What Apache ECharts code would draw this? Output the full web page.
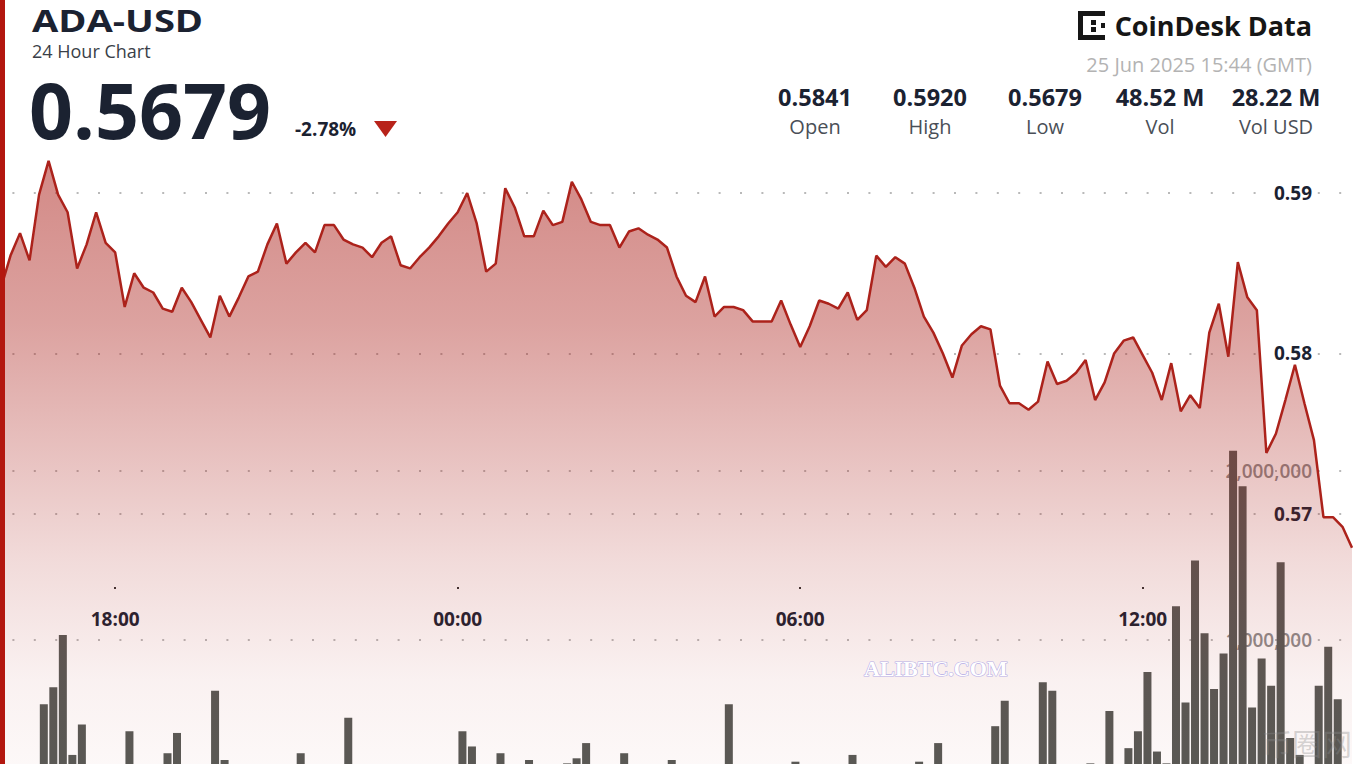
<!DOCTYPE html>
<html>
<head>
<meta charset="utf-8">
<script src="https://cdn.jsdelivr.net/npm/echarts@6/dist/echarts.min.js"></script>
<style>
html,body{margin:0;padding:0;background:#ffffff;overflow:hidden;}
#wrap{width:1356px;height:764px;overflow:hidden;position:relative;}
#chart{width:1356px;height:809px;position:absolute;left:0;top:0;}
</style>
</head>
<body>
<div id="wrap"><div id="chart"></div></div>
<script>
// ---------------- data ----------------
const symbol = 'ADA-USD';
const subtitle = '24 Hour Chart';
const lastPrice = '0.5679';
const changePct = '-2.78%';
const brand = 'CoinDesk Data';
const timestamp = '25 Jun 2025 15:44 (GMT)';
const statValues = ['0.5841', '0.5920', '0.5679', '48.52 M', '28.22 M'];
const statLabels = ['Open', 'High', 'Low', 'Vol', 'Vol USD'];

const startMinute = 16 * 60;      // first sample 16:00
const stepMinutes = 10;           // one sample every 10 minutes
const xTickLabels = ['18:00', '00:00', '06:00', '12:00'];
const priceTicks = [0.57, 0.58, 0.59];
const volumeTicks = [1000000, 2000000];

// price, one value per 10 minutes
const prices = [
  0.5841, 0.5861, 0.5875, 0.5858, 0.5899, 0.5920, 0.5899, 0.5888, 0.5853, 0.5868,
  0.5888, 0.5869, 0.5863, 0.5829, 0.5850, 0.5841, 0.5838, 0.5828, 0.5826, 0.5841,
  0.5832, 0.5821, 0.5810, 0.5836, 0.5823, 0.5835, 0.5848, 0.5851, 0.5868, 0.5881,
  0.5856, 0.5863, 0.5869, 0.5863, 0.5880, 0.5880, 0.5871, 0.5868, 0.5866, 0.5860,
  0.5869, 0.5873, 0.5855, 0.5853, 0.5860, 0.5866, 0.5873, 0.5881, 0.5888, 0.5900,
  0.5881, 0.5851, 0.5856, 0.5903, 0.5891, 0.5873, 0.5873, 0.5889, 0.5880, 0.5882,
  0.5907, 0.5896, 0.5882, 0.5880, 0.5880, 0.5866, 0.5876, 0.5878, 0.5874, 0.5871,
  0.5866, 0.5848, 0.5836, 0.5832, 0.5848, 0.5823, 0.5829, 0.5829, 0.5827, 0.5820,
  0.5820, 0.5820, 0.5833, 0.5818, 0.5804, 0.5817, 0.5833, 0.5831, 0.5828, 0.5838,
  0.5821, 0.5827, 0.5861, 0.5854, 0.5860, 0.5856, 0.5841, 0.5823, 0.5813, 0.5800,
  0.5785, 0.5805, 0.5812, 0.5817, 0.5815, 0.5780, 0.5769, 0.5769, 0.5765, 0.5770,
  0.5795, 0.5781, 0.5783, 0.5788, 0.5796, 0.5771, 0.5782, 0.5800, 0.5808, 0.5810,
  0.5799, 0.5788, 0.5771, 0.5794, 0.5764, 0.5774, 0.5766, 0.5813, 0.5831, 0.5798,
  0.5857, 0.5835, 0.5827, 0.5738, 0.5750, 0.5771, 0.5793, 0.5769, 0.5746, 0.5698,
  0.5698, 0.5692, 0.5679
];

// volume in millions, one bar per 10-minute interval
const volumesM = [
  0.18, 0.15, 0.21, 0.24, 0.62, 0.72, 1.03, 0.32, 0.50, 0.22,
  0.19, 0.16, 0.20, 0.46, 0.21, 0.17, 0.23, 0.33, 0.45, 0.20,
  0.18, 0.24, 0.70, 0.29, 0.19, 0.15, 0.13, 0.17, 0.20, 0.14,
  0.16, 0.33, 0.18, 0.12, 0.15, 0.19, 0.54, 0.20, 0.14, 0.11,
  0.13, 0.16, 0.18, 0.12, 0.10, 0.14, 0.17, 0.22, 0.46, 0.37,
  0.21, 0.18, 0.33, 0.20, 0.15, 0.29, 0.17, 0.13, 0.21, 0.27,
  0.30, 0.39, 0.20, 0.16, 0.18, 0.33, 0.15, 0.12, 0.14, 0.19,
  0.29, 0.22, 0.17, 0.14, 0.20, 0.23, 0.62, 0.16, 0.13, 0.18,
  0.20, 0.15, 0.17, 0.28, 0.21, 0.14, 0.12, 0.16, 0.19, 0.32,
  0.20, 0.17, 0.24, 0.15, 0.18, 0.21, 0.28, 0.20, 0.39, 0.22,
  0.19, 0.15, 0.17, 0.23, 0.49, 0.64, 0.21, 0.18, 0.25, 0.75,
  0.70, 0.20, 0.16, 0.22, 0.27, 0.23, 0.58, 0.24, 0.36, 0.46,
  0.81, 0.34, 0.27, 1.20, 0.63, 1.47, 1.04, 0.71, 0.92, 2.12,
  1.91, 0.60, 0.89, 0.73, 1.46, 0.42, 0.32, 0.24, 0.73, 0.96,
  0.65, 0.22
];

// ---------------- helpers ----------------
function hhmm(m) {
  m = ((m % 1440) + 1440) % 1440;
  const h = Math.floor(m / 60), mm = m % 60;
  return String(h).padStart(2, '0') + ':' + String(mm).padStart(2, '0');
}
const timeCats = prices.map((_, i) => hhmm(startMinute + i * stepMinutes));
const barCats = volumesM.map((_, i) => hhmm(startMinute + i * stepMinutes + stepMinutes / 2));
const volumes = volumesM.map(v => Math.round(v * 1000000));
const showTick = (idx, val) => xTickLabels.indexOf(val) >= 0;
const withCommas = v => String(Math.round(v)).replace(/\B(?=(\d{3})+(?!\d))/g, ',');

const FONT = '"Open Sans", "Noto Sans", sans-serif';
const DARK = '#1b2231';
const dotted = { color: '#a2a2a2', type: [2, 19.4], dashOffset: 10, width: 1.6 };

const chart = echarts.init(document.getElementById('chart'), null, { renderer: 'svg', width: 1356, height: 809 });

function txt(x, y, text, font, fill, align, extra) {
  return Object.assign({
    type: 'text', x: x, y: y, z: 50,
    style: {
      text: text, font: font, fill: fill,
      align: align || 'left', textAlign: align || 'left',
      verticalAlign: 'middle', textVerticalAlign: 'middle'
    }
  }, extra || {});
}

const statCenters = [815, 930, 1045, 1160, 1276];
const graphics = [
  { type: 'rect', z: 60, shape: { x: 0, y: 0, width: 5, height: 809 }, style: { fill: '#b3170f' } },
  txt(32, 20, symbol, 'bold 31px ' + FONT, DARK, 'left', { scaleX: 1.23 }),
  txt(32, 50.5, subtitle, '18px ' + FONT, '#3a3f48'),
  txt(29, 109, lastPrice, 'bold 77px ' + FONT, DARK),
  txt(295, 129, changePct, 'bold 19px ' + FONT, DARK),
  { type: 'polygon', z: 50, shape: { points: [[374, 121], [397, 121], [385.5, 137]] }, style: { fill: '#b8231a' } },
  // logo mark
  { type: 'rect', z: 50, shape: { x: 1078, y: 11, width: 5, height: 29 }, style: { fill: '#161616' } },
  { type: 'rect', z: 50, shape: { x: 1078, y: 11, width: 27, height: 5 }, style: { fill: '#161616' } },
  { type: 'rect', z: 50, shape: { x: 1078, y: 35, width: 27, height: 5 }, style: { fill: '#161616' } },
  { type: 'rect', z: 50, shape: { x: 1091, y: 20, width: 5, height: 5 }, style: { fill: '#161616' } },
  { type: 'rect', z: 50, shape: { x: 1091, y: 27, width: 5, height: 5 }, style: { fill: '#161616' } },
  { type: 'rect', z: 50, shape: { x: 1101, y: 23, width: 4, height: 5 }, style: { fill: '#161616' } },
  txt(1312, 25, brand, 'bold 27px ' + FONT, '#161616', 'right'),
  txt(1312, 64, timestamp, '20px ' + FONT, '#b3b3b3', 'right'),
  // watermarks
  txt(864, 668, 'ALIBTC.COM', 'bold 22px "Liberation Serif", serif', '#ffffff', 'left',
      { style: { text: 'ALIBTC.COM', font: 'bold 22px "Liberation Serif", serif', fill: '#ffffff', stroke: '#b7aee6', lineWidth: 1.2,
                 align: 'left', textAlign: 'left', verticalAlign: 'middle', textVerticalAlign: 'middle' } }),
  txt(1352, 742, '币圈网', '30px "Noto Sans CJK SC"', 'rgba(140,140,140,0.35)', 'right')
];
statValues.forEach((v, i) => {
  graphics.push(txt(statCenters[i], 97, v, 'bold 23.5px ' + FONT, DARK, 'center'));
  graphics.push(txt(statCenters[i], 126, statLabels[i], '20px ' + FONT, '#4a4f57', 'center'));
});

const option = {
  animation: false,
  backgroundColor: '#ffffff',
  grid: { left: 1, right: 4, top: 48.5, bottom: 0, containLabel: false },
  xAxis: [
    {
      type: 'category', data: timeCats, boundaryGap: false, position: 'bottom', offset: -222,
      axisLine: { show: false },
      axisTick: { show: true, length: 2, interval: showTick, lineStyle: { color: '#333', width: 2 } },
      axisLabel: { interval: showTick, margin: 22, color: DARK, fontSize: 19, fontWeight: 'bold', fontFamily: FONT },
      splitLine: { show: false }
    },
    { type: 'category', data: barCats, boundaryGap: true, position: 'top', show: false }
  ],
  yAxis: [
    {
      type: 'value', min: 0.5516199, max: 0.5990031, position: 'right',
      axisLine: { show: false },
      axisTick: { show: false, customValues: priceTicks },
      axisLabel: { inside: true, margin: 40, customValues: priceTicks, formatter: v => Number(v).toFixed(2),
                   color: DARK, fontSize: 19, fontWeight: 'bold', fontFamily: FONT },
      splitLine: { show: true, lineStyle: dotted }
    },
    {
      type: 'value', min: 0, max: 4500000, position: 'right',
      axisLine: { show: false },
      axisTick: { show: false, customValues: volumeTicks },
      axisLabel: { inside: true, margin: 40, customValues: volumeTicks, formatter: withCommas,
                   color: '#8d8d8d', fontSize: 19, fontWeight: 600, fontFamily: FONT },
      splitLine: { show: true, lineStyle: dotted }
    }
  ],
  series: [
    {
      type: 'bar', xAxisIndex: 1, yAxisIndex: 1, data: volumes, barWidth: 8, silent: true,
      itemStyle: { color: '#575a56' }
    },
    {
      type: 'line', xAxisIndex: 0, yAxisIndex: 0, data: prices, symbol: 'none', showSymbol: false, silent: true,
      lineStyle: { color: '#ac221b', width: 2.5 },
      areaStyle: {
        color: new echarts.graphic.LinearGradient(0, 0, 0, 1, [
          { offset: 0, color: 'rgba(172,34,28,0.76)' },
          { offset: 0.25, color: 'rgba(172,34,28,0.60)' },
          { offset: 0.45, color: 'rgba(172,34,28,0.40)' },
          { offset: 0.62, color: 'rgba(172,34,28,0.23)' },
          { offset: 0.8, color: 'rgba(172,34,28,0.09)' },
          { offset: 1, color: 'rgba(172,34,28,0.02)' }
        ])
      }
    }
  ],
  graphic: graphics
};
chart.setOption(option);
</script>
</body>
</html>
